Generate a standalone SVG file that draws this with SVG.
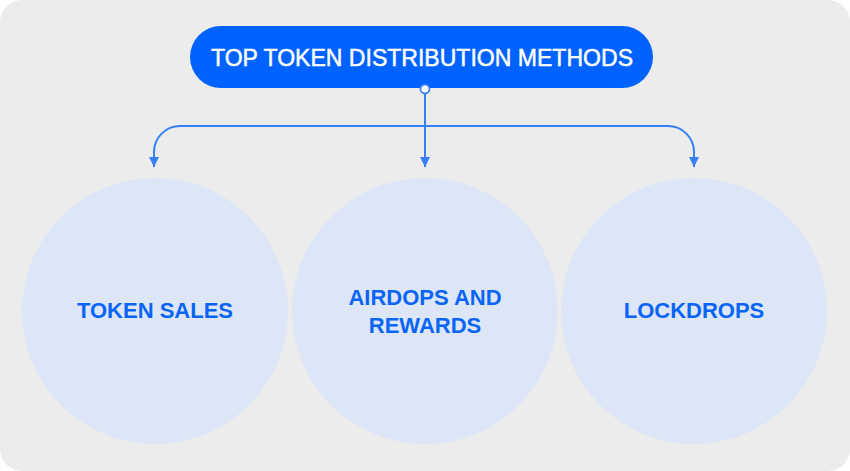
<svg xmlns="http://www.w3.org/2000/svg" width="850" height="471" viewBox="0 0 850 471">
  <style>
    .conn { fill: none; stroke: #3580f7; stroke-width: 2; }
    .circ { fill: #dce6f6; }
    .lbl { font-family: "Liberation Sans", Arial, sans-serif; font-weight: bold; font-size: 22px; fill: #0a64f5; text-anchor: middle; }
    .title { font-family: "Liberation Sans", Arial, sans-serif; font-size: 24px; fill: #ffffff; stroke: #ffffff; stroke-width: 0.5; text-anchor: middle; }
  </style>
  <defs>
    <marker id="arr" viewBox="0 0 10 10" refX="10" refY="5" markerWidth="5" markerHeight="5" orient="auto" markerUnits="strokeWidth">
      <path d="M0,0 L10,5 L0,10 Z" fill="#3580f7"/>
    </marker>
  </defs>
  <rect x="0" y="0" width="850" height="471" rx="22" fill="#ececec"/>
  <g id="connectors">
    <path class="conn" d="M425,93 V167" marker-end="url(#arr)"/>
    <path class="conn" d="M154,167 V152 A26,26 0 0 1 180,126 H668 A26,26 0 0 1 694,152 V167" />
    <path class="conn" d="M154,152 V167" marker-end="url(#arr)"/>
    <path class="conn" d="M694,152 V167" marker-end="url(#arr)"/>
  </g>
  <g id="title">
    <rect x="190" y="26" width="463" height="62" rx="31" fill="#0062ff"/>
    <text class="title" x="422" y="66" textLength="422" lengthAdjust="spacingAndGlyphs">TOP TOKEN DISTRIBUTION METHODS</text>
    <circle cx="425" cy="89" r="4.5" fill="#ffffff" stroke="#3580f7" stroke-width="1.8"/>
  </g>
  <g id="token-sales">
    <circle class="circ" cx="155" cy="311" r="133"/>
    <text class="lbl" x="155" y="318">TOKEN SALES</text>
  </g>
  <g id="airdrops">
    <circle class="circ" cx="425" cy="311" r="133"/>
    <text class="lbl" x="425" y="305">AIRDOPS AND</text>
    <text class="lbl" x="425" y="333">REWARDS</text>
  </g>
  <g id="lockdrops">
    <circle class="circ" cx="694" cy="311" r="133"/>
    <text class="lbl" x="694" y="318">LOCKDROPS</text>
  </g>
</svg>
